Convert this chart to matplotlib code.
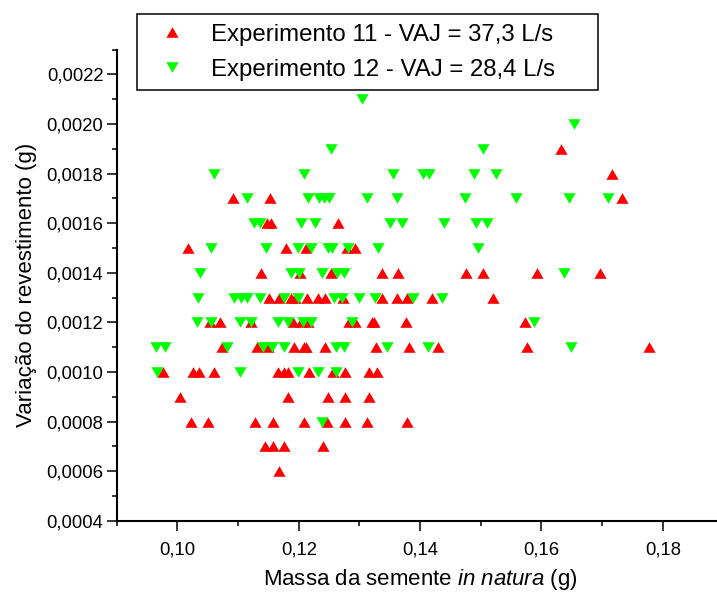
import matplotlib
matplotlib.use("Agg")
import matplotlib.pyplot as plt
from matplotlib.path import Path
from matplotlib.ticker import MultipleLocator, FuncFormatter
from matplotlib.lines import Line2D

plt.rcParams['font.family'] = ['Liberation Sans', 'DejaVu Sans']
plt.rcParams['mathtext.fontset'] = 'custom'
plt.rcParams['mathtext.rm'] = 'Liberation Sans'
plt.rcParams['mathtext.it'] = 'Liberation Sans:italic'

# Experimento 11 - VAJ = 37,3 L/s : seed mass (g) vs. coating variation (g)
x_exp11 = [0.1168,
           0.1144, 0.1158, 0.1176, 0.1240,
           0.1023, 0.1050, 0.1128, 0.1157, 0.1208, 0.1247, 0.1276, 0.1312, 0.1378,
           0.1005, 0.1183, 0.1248, 0.1277, 0.1315,
           0.0977, 0.1026, 0.1036, 0.1060, 0.1166, 0.1175, 0.1183, 0.1217, 0.1257, 0.1276, 0.1316, 0.1329,
           0.1074, 0.1132, 0.1149, 0.1193, 0.1208, 0.1212, 0.1243, 0.1327, 0.1382, 0.1429, 0.1577, 0.1778,
           0.1053, 0.1071, 0.1121, 0.1191, 0.1203, 0.1215, 0.1283, 0.1293, 0.1320, 0.1324, 0.1376, 0.1573,
           0.1151, 0.1168, 0.1187, 0.1194, 0.1213, 0.1231, 0.1243, 0.1273, 0.1338, 0.1362, 0.1378, 0.1419, 0.1520,
           0.1137, 0.1202, 0.1253, 0.1338, 0.1363, 0.1476, 0.1503, 0.1593, 0.1697,
           0.1018, 0.1179, 0.1212, 0.1280, 0.1293,
           0.1148, 0.1154, 0.1264,
           0.1092, 0.1152, 0.1732,
           0.1716,
           0.1632]
y_exp11 = ([0.0006] * 1 + [0.0007] * 4 + [0.0008] * 9 + [0.0009] * 5 +
           [0.0010] * 12 + [0.0011] * 12 + [0.0012] * 12 + [0.0013] * 13 +
           [0.0014] * 9 + [0.0015] * 5 + [0.0016] * 3 + [0.0017] * 3 +
           [0.0018] * 1 + [0.0019] * 1)

# Experimento 12 - VAJ = 28,4 L/s
x_exp12 = [0.1238,
           0.0966, 0.1103, 0.1198, 0.1231, 0.1261,
           0.0964, 0.0979, 0.1082, 0.1141, 0.1156, 0.1176, 0.1261, 0.1275, 0.1346, 0.1413, 0.1648,
           0.1032, 0.1055, 0.1104, 0.1122, 0.1166, 0.1183, 0.1207, 0.1220, 0.1288, 0.1587,
           0.1034, 0.1094, 0.1105, 0.1114, 0.1136, 0.1175, 0.1198, 0.1258, 0.1271, 0.1300, 0.1325, 0.1388, 0.1436,
           0.1037, 0.1187, 0.1201, 0.1238, 0.1263, 0.1275, 0.1638,
           0.1055, 0.1146, 0.1198, 0.1220, 0.1249, 0.1254, 0.1282, 0.1330, 0.1495,
           0.1126, 0.1136, 0.1203, 0.1227, 0.1350, 0.1371, 0.1440, 0.1492, 0.1511,
           0.1114, 0.1215, 0.1234, 0.1241, 0.1250, 0.1313, 0.1362, 0.1474, 0.1558, 0.1646, 0.1709,
           0.1060, 0.1208, 0.1355, 0.1404, 0.1414, 0.1489, 0.1525,
           0.1253, 0.1503,
           0.1653,
           0.1304]
y_exp12 = ([0.0008] * 1 + [0.0010] * 5 + [0.0011] * 11 + [0.0012] * 10 +
           [0.0013] * 13 + [0.0014] * 7 + [0.0015] * 9 + [0.0016] * 9 +
           [0.0017] * 11 + [0.0018] * 7 + [0.0019] * 2 + [0.0020] * 1 +
           [0.0021] * 1)

labels = ["Experimento 11 - VAJ = 37,3 L/s", "Experimento 12 - VAJ = 28,4 L/s"]
colors = ["#ff0000", "#00ff00"]

# equilateral triangles (Origin-style symbols)
tri_up = Path([(0, 0.866), (-1, -0.866), (1, -0.866), (0, 0.866)],
              [Path.MOVETO, Path.LINETO, Path.LINETO, Path.CLOSEPOLY])
tri_down = Path([(0, -0.866), (-1, 0.866), (1, 0.866), (0, -0.866)],
                [Path.MOVETO, Path.LINETO, Path.LINETO, Path.CLOSEPOLY])

fig = plt.figure(figsize=(7.17, 5.93), dpi=100)
ax = fig.add_axes([0.1628, 0.1219, 0.8462, 0.7946])

ms = 8.8
ax.plot(x_exp11, y_exp11, linestyle='none', marker=tri_up, markersize=ms,
        markerfacecolor=colors[0], markeredgecolor=colors[0], markeredgewidth=0)
ax.plot(x_exp12, y_exp12, linestyle='none', marker=tri_down, markersize=ms,
        markerfacecolor=colors[1], markeredgecolor=colors[1], markeredgewidth=0)

ax.set_xlim(0.09, 0.19)
ax.set_ylim(0.0004, 0.0023)

for side in ('top', 'right'):
    ax.spines[side].set_visible(False)
for side in ('left', 'bottom'):
    ax.spines[side].set_linewidth(1.5)

ax.xaxis.set_major_locator(MultipleLocator(0.02))
ax.xaxis.set_minor_locator(MultipleLocator(0.01))
ax.yaxis.set_major_locator(MultipleLocator(0.0002))
ax.yaxis.set_minor_locator(MultipleLocator(0.0001))
ax.xaxis.set_major_formatter(FuncFormatter(lambda v, p: f"{v:.2f}".replace('.', ',')))
ax.yaxis.set_major_formatter(FuncFormatter(lambda v, p: f"{v:.4f}".replace('.', ',')))

ax.tick_params(which='major', direction='out', length=7.2, width=1.1, labelsize=13.3)
ax.tick_params(which='minor', direction='out', length=3.6, width=1.1)
ax.tick_params(axis='x', which='major', pad=8)
ax.tick_params(axis='y', which='major', pad=2.5)

ax.set_xlabel("Massa da semente $\\it{in\\ natura}$ (g)", fontsize=16, labelpad=6)
ax.set_ylabel("Variação do revestimento (g)", fontsize=16, labelpad=7)

handles = [Line2D([], [], linestyle='none', marker=tri_up, markersize=ms,
                  markerfacecolor=colors[0], markeredgewidth=0),
           Line2D([], [], linestyle='none', marker=tri_down, markersize=ms,
                  markerfacecolor=colors[1], markeredgewidth=0)]
leg = fig.legend(handles, labels, loc='upper left',
                 bbox_to_anchor=(137 / 717, 0.5, 461 / 717, 1 - 14 / 593 - 0.5),
                 mode='expand', borderaxespad=0, fontsize=17.3, frameon=True,
                 fancybox=False, framealpha=1, edgecolor='black',
                 borderpad=0.4, labelspacing=0.55, handlelength=2.12,
                 handletextpad=0.56)
leg.get_frame().set_linewidth(1.1)

fig.savefig("out.png", dpi=100)
